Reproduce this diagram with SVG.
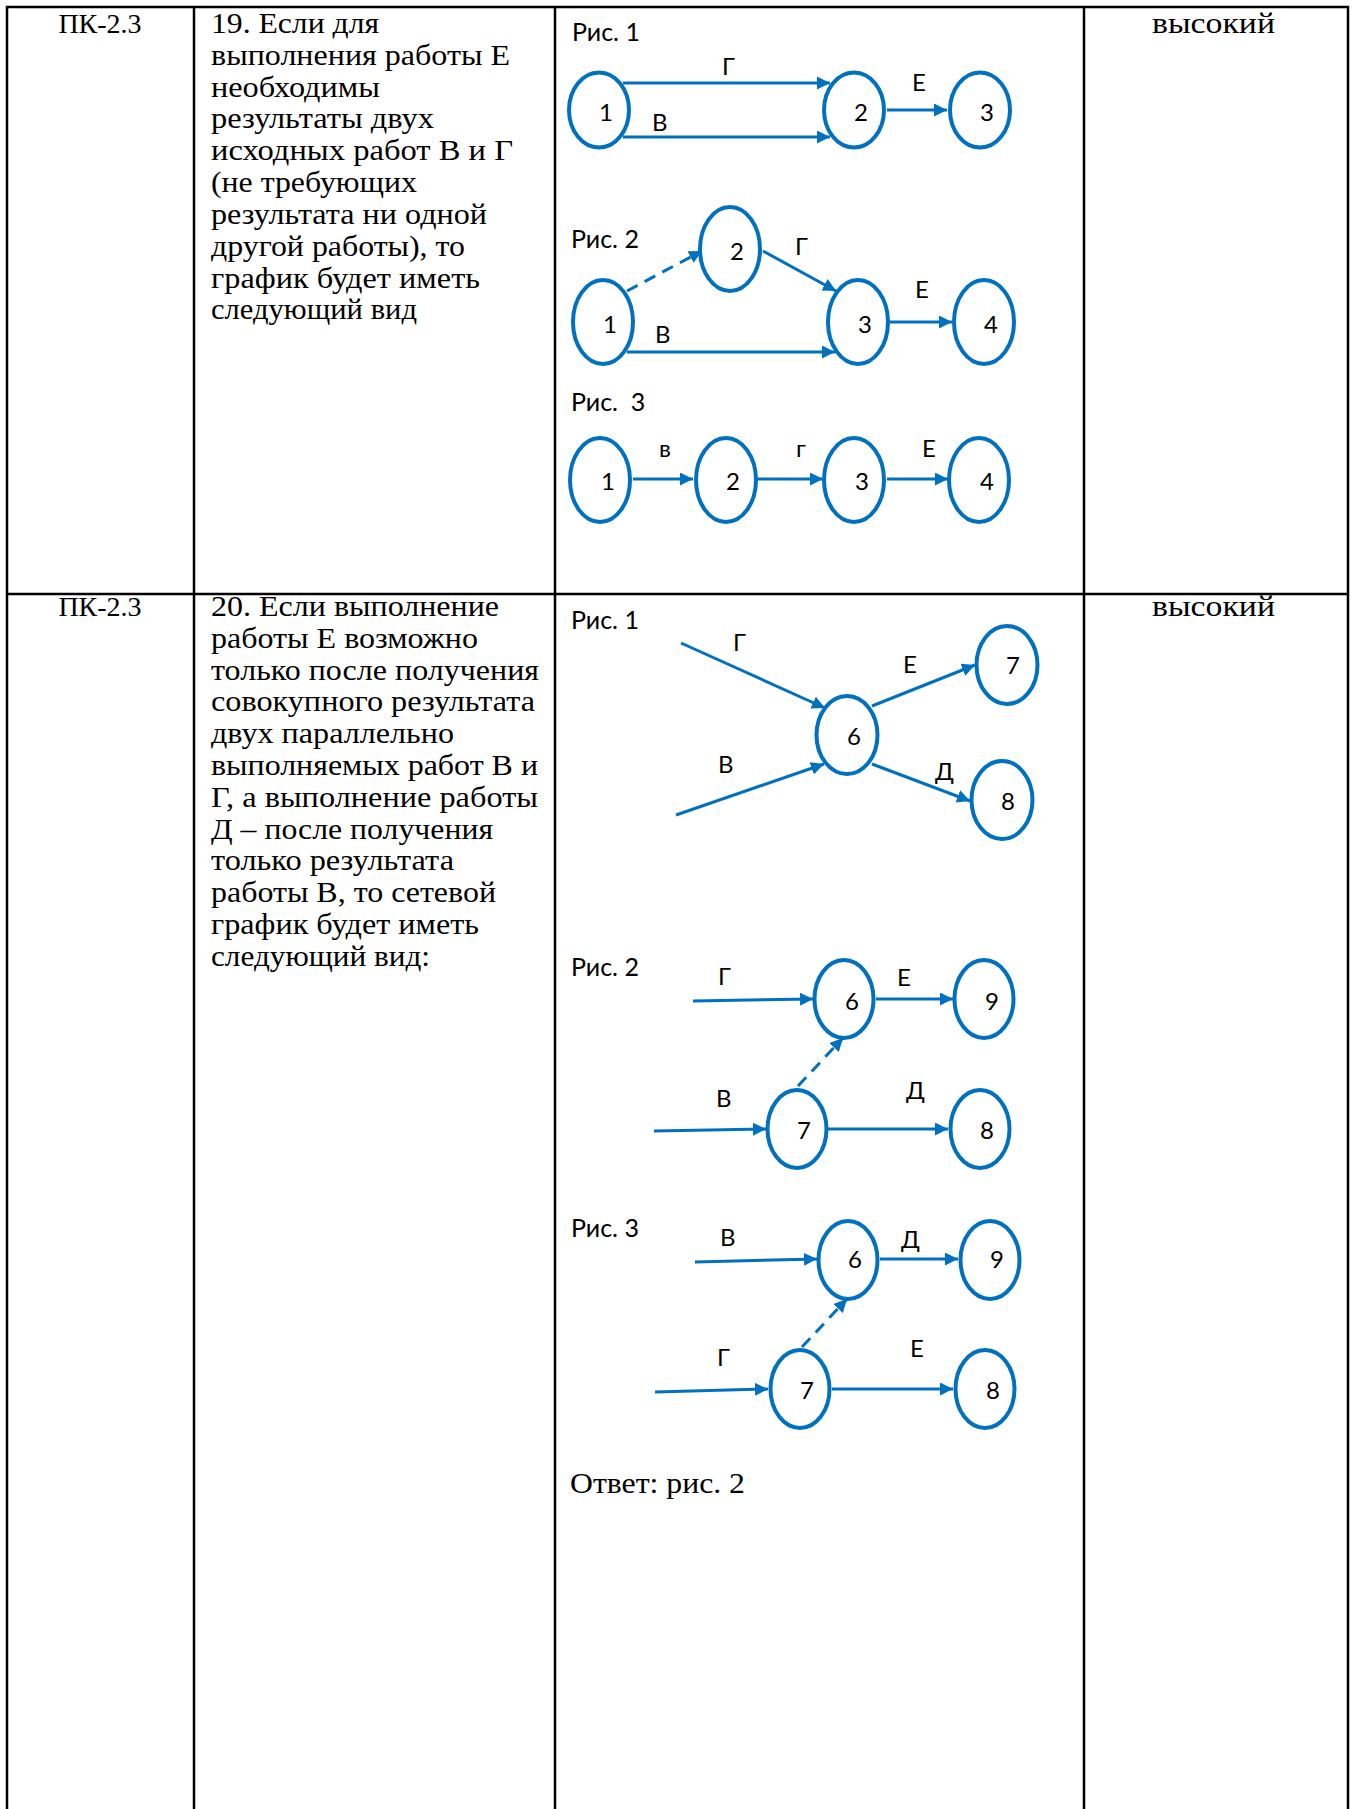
<svg xmlns="http://www.w3.org/2000/svg" width="1354" height="1809" viewBox="0 0 1354 1809">
<style>
.grid{stroke:#000;stroke-width:2.5;fill:none}
.t{font-family:"Liberation Serif","Times New Roman",serif;font-size:29px;fill:#000}
.k{font-family:"Liberation Serif","Times New Roman",serif;font-size:28px;fill:#000;text-anchor:middle}
.lbl{font-family:Lato,"Noto Sans",sans-serif;font-size:24px;fill:#000}
.cap{font-family:Lato,"Noto Sans",sans-serif;font-size:25px;fill:#000}
.nl{font-family:Lato,"Noto Sans",sans-serif;font-size:24px;fill:#000;text-anchor:middle}
.node{fill:#fff;stroke:#0070C0;stroke-width:4}
.ea{stroke:#0070C0;stroke-width:3;fill:none;marker-end:url(#ah)}
.d{stroke:#0070C0;stroke-width:3;fill:none;stroke-dasharray:12 8;marker-end:url(#ah)}
</style>
<defs>
<marker id="ah" markerUnits="userSpaceOnUse" markerWidth="15" markerHeight="15" refX="13" refY="6.5" orient="auto">
<path d="M0,0 L13,6.5 L0,13 z" fill="#0070C0"/>
</marker>
</defs>
<rect width="1354" height="1809" fill="#fff"/>
<g id="table">
<path class="grid" d="M7,1809 V7 H1348 V1809 M194,7 V1809 M555,7 V1809 M1084,7 V1809 M7,594 H1348"/>
</g>
<g id="row1-text">
<text class="k" x="100" y="33">ПК-2.3</text>
<text class="t" x="1152" y="33" textLength="123" lengthAdjust="spacingAndGlyphs">высокий</text>
<text class="t" x="211" y="33" textLength="168" lengthAdjust="spacingAndGlyphs">19. Если для</text>
<text class="t" x="211" y="65" textLength="299" lengthAdjust="spacingAndGlyphs">выполнения работы Е</text>
<text class="t" x="211" y="97" textLength="169" lengthAdjust="spacingAndGlyphs">необходимы</text>
<text class="t" x="211" y="128" textLength="223" lengthAdjust="spacingAndGlyphs">результаты двух</text>
<text class="t" x="211" y="160" textLength="302" lengthAdjust="spacingAndGlyphs">исходных работ В и Г</text>
<text class="t" x="211" y="192" textLength="206" lengthAdjust="spacingAndGlyphs">(не требующих</text>
<text class="t" x="211" y="224" textLength="276" lengthAdjust="spacingAndGlyphs">результата ни одной</text>
<text class="t" x="211" y="256" textLength="254" lengthAdjust="spacingAndGlyphs">другой работы), то</text>
<text class="t" x="211" y="288" textLength="269" lengthAdjust="spacingAndGlyphs">график будет иметь</text>
<text class="t" x="211" y="319" textLength="206" lengthAdjust="spacingAndGlyphs">следующий вид</text>
</g>
<g id="row2-text">
<text class="k" x="100" y="616">ПК-2.3</text>
<text class="t" x="1152" y="616" textLength="123" lengthAdjust="spacingAndGlyphs">высокий</text>
<text class="t" x="211" y="616" textLength="288" lengthAdjust="spacingAndGlyphs">20. Если выполнение</text>
<text class="t" x="211" y="648" textLength="267" lengthAdjust="spacingAndGlyphs">работы Е возможно</text>
<text class="t" x="211" y="680" textLength="328" lengthAdjust="spacingAndGlyphs">только после получения</text>
<text class="t" x="211" y="711" textLength="324" lengthAdjust="spacingAndGlyphs">совокупного результата</text>
<text class="t" x="211" y="743" textLength="243" lengthAdjust="spacingAndGlyphs">двух параллельно</text>
<text class="t" x="211" y="775" textLength="327" lengthAdjust="spacingAndGlyphs">выполняемых работ В и</text>
<text class="t" x="211" y="807" textLength="327" lengthAdjust="spacingAndGlyphs">Г, а выполнение работы</text>
<text class="t" x="211" y="839" textLength="282" lengthAdjust="spacingAndGlyphs">Д – после получения</text>
<text class="t" x="211" y="870" textLength="243" lengthAdjust="spacingAndGlyphs">только результата</text>
<text class="t" x="211" y="902" textLength="285" lengthAdjust="spacingAndGlyphs">работы В, то сетевой</text>
<text class="t" x="211" y="934" textLength="268" lengthAdjust="spacingAndGlyphs">график будет иметь</text>
<text class="t" x="211" y="966" textLength="219" lengthAdjust="spacingAndGlyphs">следующий вид:</text>
<text class="t" x="570" y="1493" textLength="175" lengthAdjust="spacingAndGlyphs">Ответ: рис. 2</text>
</g>
<g id="captions">
<text class="cap" x="572" y="41">Рис. 1</text>
<text class="cap" x="571" y="248">Рис. 2</text>
<text class="cap" x="571" y="411" xml:space="preserve">Рис.  3</text>
<text class="cap" x="571" y="629">Рис. 1</text>
<text class="cap" x="571" y="976">Рис. 2</text>
<text class="cap" x="571" y="1237">Рис. 3</text>
</g>
<g id="connectors">
<line class="ea" x1="623" y1="83" x2="830" y2="83"/>
<line class="ea" x1="623" y1="137" x2="830" y2="137"/>
<line class="ea" x1="887" y1="110" x2="947" y2="110"/>
<line class="d" x1="627" y1="291" x2="702" y2="251"/>
<line class="ea" x1="763" y1="251" x2="836" y2="291"/>
<line class="ea" x1="627" y1="352" x2="835" y2="352"/>
<line class="ea" x1="890" y1="322" x2="952" y2="322"/>
<line class="ea" x1="633" y1="479" x2="693" y2="479"/>
<line class="ea" x1="757" y1="479" x2="823" y2="479"/>
<line class="ea" x1="887" y1="479" x2="948" y2="479"/>
<line class="ea" x1="681" y1="643" x2="825" y2="708"/>
<line class="ea" x1="676" y1="815" x2="824" y2="764"/>
<line class="ea" x1="872" y1="706" x2="975" y2="665"/>
<line class="ea" x1="872" y1="764" x2="970" y2="801"/>
<line class="ea" x1="693" y1="1001" x2="813" y2="999"/>
<line class="ea" x1="876" y1="999" x2="953" y2="999"/>
<line class="d" x1="798" y1="1086" x2="843" y2="1038"/>
<line class="ea" x1="654" y1="1131" x2="766" y2="1129"/>
<line class="ea" x1="828" y1="1129" x2="948" y2="1129"/>
<line class="ea" x1="695" y1="1262" x2="817" y2="1259"/>
<line class="ea" x1="880" y1="1259" x2="958" y2="1259"/>
<line class="d" x1="802" y1="1347" x2="847" y2="1299"/>
<line class="ea" x1="655" y1="1392" x2="768" y2="1389"/>
<line class="ea" x1="832" y1="1389" x2="953" y2="1389"/>
</g>
<g id="edge-labels">
<text class="lbl" x="722" y="75">Г</text>
<text class="lbl" x="652" y="131">В</text>
<text class="lbl" x="912" y="91">Е</text>
<text class="lbl" x="795" y="255">Г</text>
<text class="lbl" x="655" y="343">В</text>
<text class="lbl" x="915" y="298">Е</text>
<text class="lbl" x="659" y="457">в</text>
<text class="lbl" x="796" y="457">г</text>
<text class="lbl" x="922" y="457">Е</text>
<text class="lbl" x="733" y="651">Г</text>
<text class="lbl" x="718" y="773">В</text>
<text class="lbl" x="903" y="673">Е</text>
<text class="lbl" x="935" y="780">Д</text>
<text class="lbl" x="718" y="985">Г</text>
<text class="lbl" x="897" y="986">Е</text>
<text class="lbl" x="716" y="1107">В</text>
<text class="lbl" x="906" y="1099">Д</text>
<text class="lbl" x="720" y="1246">В</text>
<text class="lbl" x="901" y="1248">Д</text>
<text class="lbl" x="717" y="1366">Г</text>
<text class="lbl" x="910" y="1357">Е</text>
</g>
<g id="r1f1-n1"><ellipse class="node" cx="599" cy="110" rx="30" ry="37.5"/><text class="nl" x="606" y="121">1</text></g>
<g id="r1f1-n2"><ellipse class="node" cx="854" cy="110" rx="30" ry="37.5"/><text class="nl" x="861" y="121">2</text></g>
<g id="r1f1-n3"><ellipse class="node" cx="980" cy="110" rx="30" ry="37.5"/><text class="nl" x="987" y="121">3</text></g>
<g id="r1f2-n1"><ellipse class="node" cx="603" cy="322" rx="30" ry="42"/><text class="nl" x="610" y="333">1</text></g>
<g id="r1f2-n2"><ellipse class="node" cx="730" cy="249" rx="30" ry="42"/><text class="nl" x="737" y="260">2</text></g>
<g id="r1f2-n3"><ellipse class="node" cx="858" cy="322" rx="30" ry="42"/><text class="nl" x="865" y="333">3</text></g>
<g id="r1f2-n4"><ellipse class="node" cx="984" cy="322" rx="30" ry="42"/><text class="nl" x="991" y="333">4</text></g>
<g id="r1f3-n1"><ellipse class="node" cx="600" cy="480" rx="30" ry="42"/><text class="nl" x="608" y="490">1</text></g>
<g id="r1f3-n2"><ellipse class="node" cx="726" cy="480" rx="30" ry="42"/><text class="nl" x="733" y="490">2</text></g>
<g id="r1f3-n3"><ellipse class="node" cx="854" cy="480" rx="30" ry="42"/><text class="nl" x="862" y="490">3</text></g>
<g id="r1f3-n4"><ellipse class="node" cx="979" cy="480" rx="30" ry="42"/><text class="nl" x="987" y="490">4</text></g>
<g id="r2f1-n6"><ellipse class="node" cx="847" cy="735" rx="30.5" ry="39"/><text class="nl" x="854" y="745">6</text></g>
<g id="r2f1-n7"><ellipse class="node" cx="1007" cy="665" rx="30.5" ry="39"/><text class="nl" x="1013" y="674">7</text></g>
<g id="r2f1-n8"><ellipse class="node" cx="1002" cy="800" rx="30.5" ry="39"/><text class="nl" x="1008" y="810">8</text></g>
<g id="r2f2-n6"><ellipse class="node" cx="844" cy="999" rx="29.5" ry="39"/><text class="nl" x="852" y="1010">6</text></g>
<g id="r2f2-n9"><ellipse class="node" cx="984" cy="999" rx="29.5" ry="39"/><text class="nl" x="992" y="1010">9</text></g>
<g id="r2f2-n7"><ellipse class="node" cx="797" cy="1129" rx="29.5" ry="39"/><text class="nl" x="804" y="1139">7</text></g>
<g id="r2f2-n8"><ellipse class="node" cx="980" cy="1129" rx="29.5" ry="39"/><text class="nl" x="987" y="1139">8</text></g>
<g id="r2f3-n6"><ellipse class="node" cx="848" cy="1260" rx="29.5" ry="39"/><text class="nl" x="855" y="1268">6</text></g>
<g id="r2f3-n9"><ellipse class="node" cx="990" cy="1260" rx="29.5" ry="39"/><text class="nl" x="997" y="1268">9</text></g>
<g id="r2f3-n7"><ellipse class="node" cx="800" cy="1389" rx="29.5" ry="39"/><text class="nl" x="807" y="1399">7</text></g>
<g id="r2f3-n8"><ellipse class="node" cx="985" cy="1389" rx="29.5" ry="39"/><text class="nl" x="993" y="1399">8</text></g>
</svg>
